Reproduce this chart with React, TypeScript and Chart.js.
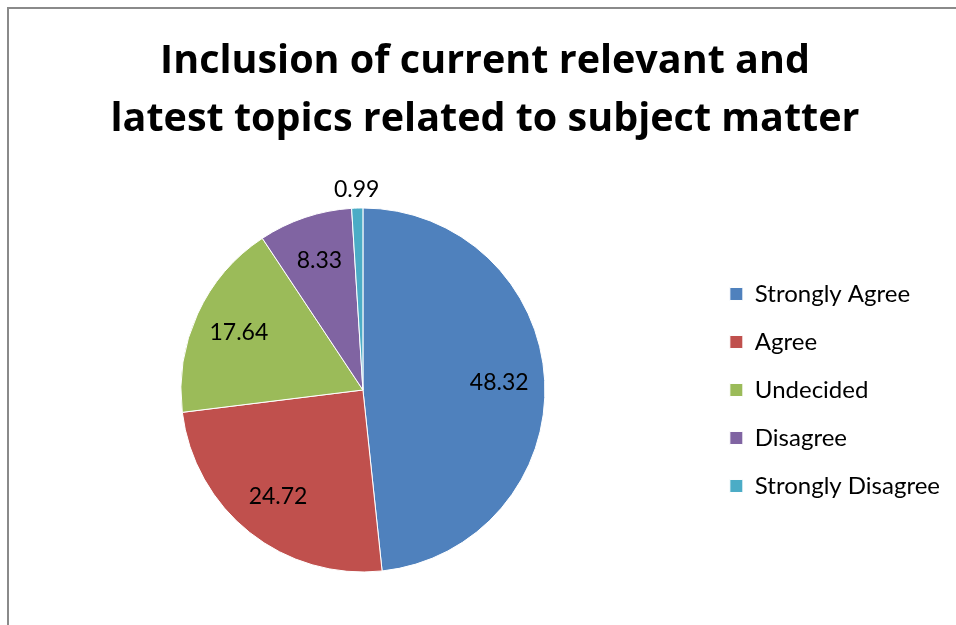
import React, { useEffect, useRef } from "react";
import { Chart, registerables } from "chart.js";

Chart.register(...registerables);

const titleLines = ["Inclusion of current relevant and", "latest topics related to subject matter"];
const categories = ["Strongly Agree", "Agree", "Undecided", "Disagree", "Strongly Disagree"];
const values = [48.32, 24.72, 17.64, 8.33, 0.99];
const colors = ["#4F81BD", "#C0504D", "#9BBB59", "#8064A2", "#4BACC6"];

const FONT = "Lato, 'Open Sans', sans-serif";
const TITLE_FONT = "'Open Sans', Lato, sans-serif";

const labelPlugin = {
  id: "sliceLabels",
  afterDatasetsDraw(chart: any) {
    const ctx = chart.ctx;
    const meta = chart.getDatasetMeta(0);
    const data = chart.data.datasets[0].data as number[];
    const total = data.reduce((a, b) => a + b, 0);
    ctx.save();
    ctx.font = `23px ${FONT}`;
    ctx.fillStyle = "#000";
    ctx.textAlign = "center";
    ctx.textBaseline = "middle";
    meta.data.forEach((arc: any, i: number) => {
      const { x, y, startAngle, endAngle, outerRadius } = arc.getProps(
        ["x", "y", "startAngle", "endAngle", "outerRadius"],
        true
      );
      const mid = (startAngle + endAngle) / 2;
      const small = data[i] / total < 0.02;
      const r = small ? outerRadius * 1.1 : outerRadius * 0.75;
      ctx.fillText(String(data[i]), x + Math.cos(mid) * r, y + Math.sin(mid) * r);
    });
    ctx.restore();
  },
};

export default function App() {
  const ref = useRef<HTMLCanvasElement | null>(null);
  useEffect(() => {
    if (!ref.current) return;
    const chart = new Chart(ref.current, {
      type: "pie",
      data: {
        labels: categories,
        datasets: [
          {
            data: values,
            backgroundColor: colors,
            borderColor: "#ffffff",
            borderWidth: 1,
          },
        ],
      },
      options: {
        responsive: false,
        animation: false,
        radius: 182,
        layout: { padding: { left: 20, right: 6, top: 0, bottom: 53 } },
        plugins: {
          title: {
            display: true,
            text: titleLines,
            color: "#000",
            font: { family: TITLE_FONT, size: 39.5, weight: "bold", lineHeight: 1.468 },
            padding: { top: 33, bottom: 59 },
          },
          legend: {
            position: "right",
            align: "center",
            fullSize: false,
            labels: {
              boxWidth: 13,
              boxHeight: 13,
              padding: 24,
              color: "#000",
              font: { family: FONT, size: 24 },
            },
          },
          tooltip: { enabled: false },
        },
      } as any,
      plugins: [labelPlugin],
    });
    return () => chart.destroy();
  }, []);
  return (
    <div style={{ position: "absolute", left: 0, top: 0, width: 956, height: 625, overflow: "hidden", background: "#fff" }}>
      <div
        style={{
          position: "absolute",
          left: 7,
          top: 7,
          width: 2000,
          height: 2000,
          borderTop: "2px solid #8a8a8a",
          borderLeft: "2px solid #8a8a8a",
        }}
      />
      <canvas ref={ref} width={956} height={625} style={{ position: "absolute", left: 0, top: 0 }} />
    </div>
  );
}
